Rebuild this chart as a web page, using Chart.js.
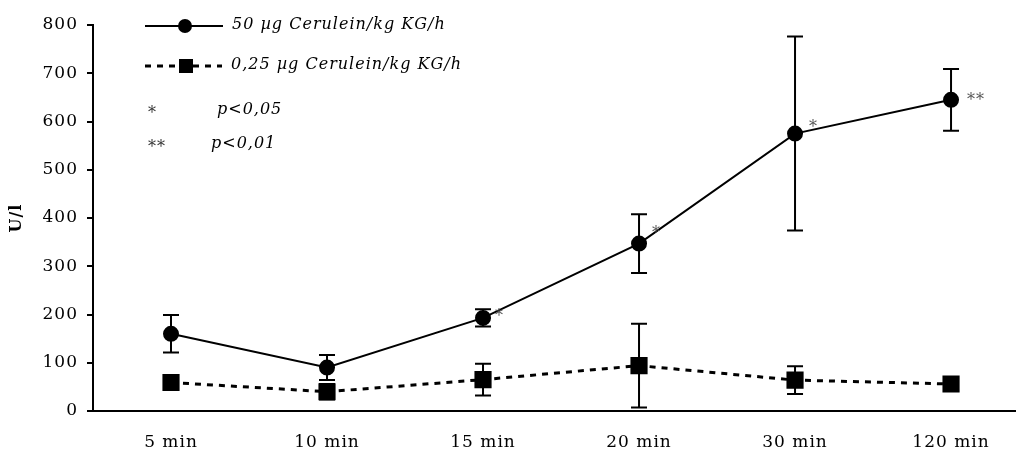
<!DOCTYPE html>
<html>
<head>
<meta charset="utf-8">
<script src="https://cdn.jsdelivr.net/npm/chart.js@4/dist/chart.umd.min.js"></script>
<style>
  html, body { margin: 0; padding: 0; background: #fff; overflow: hidden; }
  #wrap { position: relative; width: 1016px; height: 450px; }
</style>
</head>
<body>
<div id="wrap"><canvas id="c"></canvas></div>
<script>
/* data */
const times     = ['5 min', '10 min', '15 min', '20 min', '30 min', '120 min'];
const highDose  = [160, 90, 193, 347, 575, 645];
const highErr   = [39, 26, 18, 61, 201, 64];
const lowDose   = [59, 40, 65, 94, 64, 56];
const lowErr    = [15, 16, 33, 87, 29, 12];
const signif    = ['', '', '*', '*', '*', '**'];

const FONT = 'DejaVu Serif, Liberation Serif, serif';
const SPACING = '1px';

/* where each significance mark sits next to its point (px) */
const sigOffsetX = [0, 0, 12, 13, 14, 16];
const sigOffsetY = [0, 0, -6, -15, -11, -4];

const toPts = arr => arr.map((v, i) => ({ x: i, y: v }));

/* the original typesetting is a little wide */
const wideText = {
  id: 'wideText',
  beforeUpdate(chart) { chart.ctx.letterSpacing = SPACING; },
  beforeLayout(chart) { chart.ctx.letterSpacing = SPACING; },
  beforeDraw(chart)   { chart.ctx.letterSpacing = SPACING; },
};

/* error bars drawn through the scales */
const errorBars = {
  id: 'errorBars',
  afterDatasetsDraw(chart) {
    const { ctx, scales: { x, y } } = chart;
    const sets = [[highDose, highErr], [lowDose, lowErr]];
    ctx.save();
    ctx.strokeStyle = '#000';
    ctx.lineWidth = 2;
    sets.forEach(([vals, errs]) => {
      vals.forEach((v, i) => {
        const px = x.getPixelForValue(i);
        const top = y.getPixelForValue(v + errs[i]);
        const bot = y.getPixelForValue(Math.max(0, v - errs[i]));
        ctx.beginPath();
        ctx.moveTo(px, top); ctx.lineTo(px, bot);
        ctx.moveTo(px - 8, top); ctx.lineTo(px + 8, top);
        ctx.moveTo(px - 8, bot); ctx.lineTo(px + 8, bot);
        ctx.stroke();
      });
    });
    /* significance marks next to the high dose points */
    ctx.fillStyle = '#555';
    ctx.font = '16px ' + FONT;
    ctx.textBaseline = 'alphabetic';
    const meta = chart.getDatasetMeta(0);
    signif.forEach((s, i) => {
      if (!s) return;
      const p = meta.data[i];
      ctx.fillText(s, p.x + sigOffsetX[i], p.y + sigOffsetY[i] + 9);
    });
    ctx.restore();
  }
};

/* hand-placed legend, like the original figure */
const figLegend = {
  id: 'figLegend',
  afterDraw(chart) {
    const { ctx } = chart;
    ctx.save();
    ctx.strokeStyle = '#000';
    ctx.fillStyle = '#000';
    ctx.lineWidth = 2;
    ctx.beginPath(); ctx.moveTo(145, 26); ctx.lineTo(223, 26); ctx.stroke();
    ctx.beginPath(); ctx.arc(185, 26, 7, 0, Math.PI * 2); ctx.fill();

    ctx.lineWidth = 3;
    ctx.setLineDash([6, 6]);
    ctx.beginPath(); ctx.moveTo(145, 66); ctx.lineTo(222, 66); ctx.stroke();
    ctx.setLineDash([]);
    ctx.fillRect(179, 59, 14, 14);

    ctx.font = 'italic 16px ' + FONT;
    ctx.textBaseline = 'middle';
    ctx.fillText('50 µg Cerulein/kg KG/h', 232, 25);
    ctx.fillText('0,25 µg Cerulein/kg KG/h', 231, 65);
    ctx.fillText('p<0,05', 217, 110);
    ctx.fillText('p<0,01', 211, 144);
    ctx.fillStyle = '#333';
    ctx.font = '16px ' + FONT;
    ctx.textBaseline = 'alphabetic';
    ctx.fillText('*', 148, 118);
    ctx.fillText('**', 148, 152);
    ctx.restore();
  }
};

new Chart(document.getElementById('c'), {
  type: 'line',
  data: {
    datasets: [{
      label: '50 µg Cerulein/kg KG/h',
      data: toPts(highDose),
      borderColor: '#000',
      backgroundColor: '#000',
      borderWidth: 2,
      pointStyle: 'circle',
      pointRadius: 7,
      pointHoverRadius: 7,
      tension: 0,
    }, {
      label: '0,25 µg Cerulein/kg KG/h',
      data: toPts(lowDose),
      borderColor: '#000',
      backgroundColor: '#000',
      borderWidth: 3,
      borderDash: [6, 6],
      pointStyle: 'rect',
      pointRadius: 10,
      pointHoverRadius: 10,
      tension: 0,
    }],
  },
  options: {
    responsive: true,
    maintainAspectRatio: false,
    animation: false,
    layout: { autoPadding: false, padding: { top: 25, right: 1, left: 0, bottom: 0 } },
    plugins: { legend: { display: false }, tooltip: { enabled: false } },
    scales: {
      x: {
        type: 'linear',
        min: -0.5,
        max: 5.41,
        afterBuildTicks: s => { s.ticks = times.map((_, i) => ({ value: i })); },
        afterFit: s => { s.height = 39; },
        ticks: {
          color: '#000',
          font: { family: FONT, size: 17 },
          padding: 2,
          maxRotation: 0,
          callback: v => times[v] || '',
        },
        grid: { display: true, drawOnChartArea: false, drawTicks: true, tickLength: 19, color: 'rgba(0,0,0,0)' },
        border: { color: '#000', width: 2 },
      },
      y: {
        min: 0,
        max: 800,
        afterFit: s => { s.width = 93; },
        ticks: {
          stepSize: 100,
          color: '#000',
          font: { family: FONT, size: 17 },
          padding: 9,
        },
        grid: { drawOnChartArea: false, drawTicks: true, tickLength: 6, color: '#000', lineWidth: 2 },
        border: { color: '#000', width: 2 },
        title: {
          display: true,
          text: 'U/l',
          color: '#000',
          font: { family: FONT, size: 16, weight: 'bold' },
          padding: { top: 7, bottom: 0 },
        },
      },
    },
  },
  plugins: [wideText, errorBars, figLegend],
});
</script>
</body>
</html>
